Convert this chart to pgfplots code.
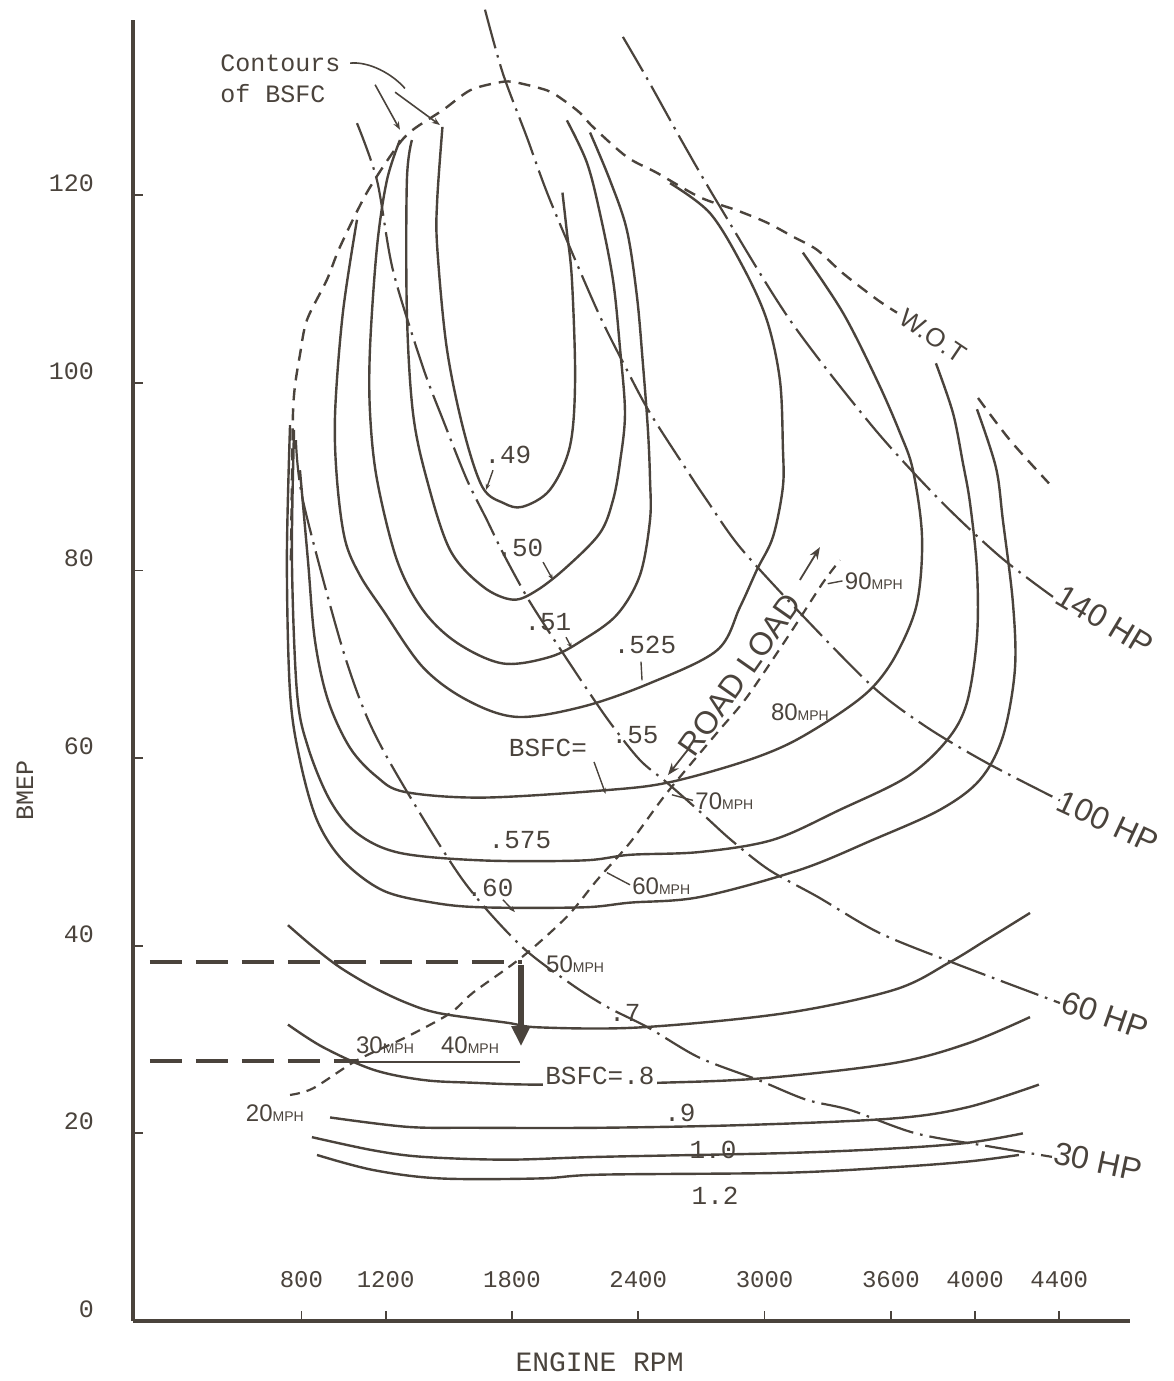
\documentclass[border=0pt]{standalone}
\usepackage{fontspec}
\setmainfont{Liberation Mono}
\newfontfamily\hand{Liberation Sans}
\usepackage{pgfplots}
\pgfplotsset{compat=1.18}
\usetikzlibrary{arrows.meta}
\definecolor{ink}{RGB}{74,67,60}
\pgfplotsset{
  cont/.style={ink, line width=1.2pt, smooth, tension=0.55, no marks},
  hp/.style={ink, line width=1.1pt, smooth, no marks, dash pattern=on 20pt off 3.5pt on 1.3pt off 3.5pt},
  wot/.style={ink, line width=1.2pt, smooth, no marks, dash pattern=on 6pt off 4pt},
  road/.style={ink, line width=1.1pt, smooth, no marks, dash pattern=on 5pt off 3.5pt},
}
\newcommand\lab{\fontsize{13}{13}\selectfont}
\newcommand\hpf{\hand\fontsize{16}{16}\selectfont}
\newcommand\mph[1]{{\hand\fontsize{12}{12}\selectfont #1\fontsize{7}{7}\selectfont MPH}}
\begin{document}
\begin{tikzpicture}
\begin{axis}[
  scale only axis, width=498.5pt, height=650.5pt,
  xmin=0, xmax=4736, ymin=0, ymax=138.7,
  axis x line*=bottom, axis y line*=left,
  xtick pos=left, ytick pos=left,
  axis line style={-, line width=1.8pt, ink},
  clip=false,
  xtick={800,1200,1800,2400,3000,3600,4000,4400},
  xticklabels={800,1200,1800,2400,3000,3600,4000,4400},
  ytick={0,20,40,60,80,100,120},
  yticklabels={0,20,40,60,80,100,120},
  tick align=inside, major tick length=5pt,
  tick style={ink, line width=0.9pt},
  /pgf/number format/assume math mode=true,
  xticklabel style={anchor=south, yshift=13pt, font=\fontsize{12}{12}\selectfont, text=ink},
  yticklabel style={anchor=east, xshift=-16pt, yshift=6pt, font=\fontsize{12.5}{12.5}\selectfont, text=ink},
  xlabel={ENGINE RPM}, ylabel={BMEP},
  every axis x label/.style={at={(rel axis cs:0.468,0)}, anchor=center, yshift=-20.5pt, font=\fontsize{14}{14}\selectfont, text=ink},
  every axis y label/.style={at={(rel axis cs:0,0.408)}, anchor=center, xshift=-54pt, rotate=90, font=\fontsize{12.5}{12.5}\selectfont, text=ink},
]
\coordinate (SW) at (rel axis cs:0,0);
\coordinate (NE) at (rel axis cs:1,1);

% ---- BSFC contours (upper family) ----
% .49
\addplot[cont] coordinates {(1470,127.3) (1445,119.5) (1445,114.5) (1490,103.8) (1570,95.0) (1660,88.9) (1760,87.2) (1850,86.8) (1980,88.6) (2075,93.2) (2100,100.3) (2085,111.0) (2060,116.3) (2040,120.3)};
% .50
\addplot[cont] coordinates {(1325,125.9) (1301,121.6) (1301,107.5) (1330,96.8) (1396,89.7) (1506,82.2) (1662,78.3) (1805,76.9) (1919,77.9) (2061,80.4) (2218,84.0) (2280,87.5) (2313,91.5) (2337,96.8) (2313,103.8) (2280,111.0) (2218,118.1) (2156,123.5) (2061,128.0)};
% .51
\addplot[cont] coordinates {(1268,125.9) (1206,121.6) (1159,114.5) (1126,103.8) (1126,96.8) (1159,89.7) (1254,81.1) (1377,75.8) (1539,72.3) (1757,70.1) (1981,70.8) (2137,72.6) (2299,75.3) (2408,79.5) (2456,85.4) (2456,89.7) (2446,95.0) (2422,102.1) (2394,109.2) (2346,116.3) (2266,121.6) (2171,126.7)};
% .525
\addplot[cont] coordinates {(1064,117.4) (997,107.5) (960,96.8) (969,89.7) (1007,83.3) (1078,79.5) (1187,75.8) (1377,69.7) (1586,66.2) (1824,64.4) (2137,65.5) (2456,68.0) (2774,71.5) (2883,76.1) (2964,80.1) (3040,83.6) (3087,88.9) (3087,93.2) (3073,100.3) (3011,106.7) (2897,112.4) (2741,118.1) (2551,121.3)};
% .55
\addplot[cont] coordinates {(793,90.7) (831,81.1) (864,72.6) (926,66.2) (1031,61.1) (1159,58.0) (1292,56.4) (1662,55.8) (2251,56.6) (2541,57.4) (2883,59.5) (3121,61.6) (3358,64.8) (3515,67.6) (3629,71.2) (3724,76.5) (3748,83.6) (3705,90.7) (3643,94.7) (3534,100.3) (3372,107.5) (3182,113.9)};
% .575
\addplot[cont] coordinates {(765,95.0) (755,81.1) (779,67.0) (831,61.2) (936,55.5) (1064,52.0) (1268,49.9) (1662,49.1) (2137,49.1) (2361,49.7) (2693,50.0) (3040,51.3) (3358,54.5) (3676,58.0) (3866,61.9) (3961,65.9) (4009,72.9) (4009,80.1) (3976,87.2) (3942,91.5) (3895,96.8) (3814,102.1)};
% .60
\addplot[cont] coordinates {(746,95.5) (731,81.1) (746,67.0) (793,59.8) (874,53.4) (997,49.1) (1187,45.9) (1425,44.6) (1662,44.1) (2137,44.1) (2361,44.6) (2693,45.2) (3168,48.1) (3515,51.3) (3833,54.5) (4023,57.7) (4132,62.3) (4189,69.4) (4180,76.5) (4132,85.4) (4099,91.0) (4009,97.2)};

% ---- BSFC contours (lower family) ----
% .7
\addplot[cont] coordinates {(736,42.2) (855,39.9) (983,37.7) (1140,35.6) (1301,33.9) (1458,32.8) (1776,31.8) (1933,31.3) (2408,31.3) (3092,32.8) (3615,35.3) (3876,38.2) (4052,40.6) (4261,43.5)};
% .8
\addplot[cont] coordinates {(736,31.6) (902,29.2) (1140,26.8) (1377,25.7) (1615,25.4) (1933,25.2) (2503,25.4) (3002,25.9) (3615,27.5) (3966,29.6) (4261,32.4)};
% .9
\addplot[cont] coordinates {(936,21.7) (1301,20.7) (1615,20.6) (2218,20.6) (2916,20.9) (3615,21.6) (3966,22.8) (4303,25.2)};
% 1.0
\addplot[cont] coordinates {(850,19.6) (1140,18.2) (1377,17.5) (1776,17.2) (2218,17.5) (3092,17.9) (3615,18.4) (3966,19.0) (4227,20.0)};
% 1.2
\addplot[cont] coordinates {(874,17.7) (1140,16.1) (1458,15.2) (1933,15.2) (2218,15.6) (3092,15.8) (3615,16.4) (3966,17.0) (4208,17.7)};

% ---- W.O.T. ----
\addplot[wot] coordinates {(750,81.1) (755,89.7) (760,96.8) (770,99.8) (793,103.0) (826,106.7) (921,111.0) (983,114.5) (1111,120.3) (1254,125.2) (1330,127.0) (1472,129.1) (1601,131.2) (1729,132.0) (1805,132.1) (1966,131.2) (2042,130.2) (2123,128.8) (2185,127.3) (2346,124.1) (2489,122.4) (2693,119.8) (2869,118.4) (3011,117.1) (3135,115.6) (3249,114.2) (3372,111.7) (3534,108.9) (3629,107.5)};
\addplot[wot] coordinates {(4014,98.4) (4166,93.9) (4351,89.3)};

% ---- constant horsepower lines ----
% 140 HP
\addplot[hp] coordinates {(2327,136.9) (2446,132.3) (2612,125.6) (2788,118.8) (3121,106.7) (3515,95.3) (3833,87.5) (4118,81.5) (4370,77.2)};
% 100 HP
\addplot[hp] coordinates {(1672,139.8) (1757,133.0) (1871,126.2) (1981,119.5) (2204,107.8) (2346,101.4) (2456,96.8) (2631,90.7) (2726,87.5) (2883,82.5) (3168,75.5) (3515,67.6) (3771,63.3) (4056,59.5) (4403,55.5)};
% 60 HP
\addplot[hp] coordinates {(1064,127.7) (1159,121.6) (1235,112.0) (1377,101.7) (1472,96.1) (1586,89.7) (1681,85.4) (1757,81.9) (1871,77.2) (1981,73.3) (2137,68.0) (2266,63.8) (2408,59.8) (2536,57.4) (2698,54.2) (2840,51.3) (3021,48.1) (3254,45.2) (3543,41.4) (3895,38.2) (4403,33.9)};
% 30 HP
\addplot[hp] coordinates {(774,93.9) (807,87.5) (983,72.6) (1111,64.4) (1268,57.7) (1567,47.0) (1838,40.1) (2076,36.0) (2251,33.5) (2446,31.3) (2688,28.1) (2969,25.7) (3197,23.6) (3406,22.5) (3719,20.0) (4071,18.6) (4365,17.5)};

% ---- road load ----
\addplot[road] coordinates {(746,24.1) (855,24.8) (1064,27.8) (1301,30.3) (1506,32.8) (1615,35.0) (1848,38.8) (2061,43.1) (2204,47.0) (2361,51.0) (2536,56.3) (2774,62.7) (2916,66.5) (3121,73.3) (3277,78.7) (3358,81.1)};

% ---- dashed BMEP levels and shift arrow ----
\addplot[ink, line width=1.8pt, no marks, dash pattern=on 16pt off 7pt] coordinates {(80,38.3) (1848,38.3)};
\addplot[ink, line width=1.8pt, no marks, dash pattern=on 16pt off 7pt] coordinates {(80,27.7) (1064,27.7)};
\addplot[ink, line width=0.9pt, no marks] coordinates {(1064,27.6) (1840,27.6)};
\addplot[ink, line width=2.6pt, no marks, -{Triangle[length=10pt,width=9pt]}] coordinates {(1843,37.9) (1843,29.3)};

% ---- annotation arrows ----
\draw[ink, line width=0.8pt] (1031,134.1) .. controls (1120,134.3) and (1230,133.0) .. (1292,131.4);
\draw[ink, line width=0.8pt, -{Stealth[length=4pt]}] (1150,131.8) -- (1268,127.0);
\draw[ink, line width=0.8pt, -{Stealth[length=4pt]}] (1245,131.0) -- (1458,127.5);
\draw[ink, line width=0.7pt, -{Stealth[length=3pt]}] (1710,90.7) -- (1677,88.6);
\draw[ink, line width=0.7pt, -{Stealth[length=3pt]}] (1948,80.9) -- (1995,79.0);
\draw[ink, line width=0.7pt, -{Stealth[length=3pt]}] (2057,72.9) -- (2085,71.7);
\draw[ink, line width=0.7pt] (2413,70.3) -- (2418,68.3);
\draw[ink, line width=0.7pt, -{Stealth[length=3pt]}] (2190,59.6) -- (2245,56.2);
\draw[ink, line width=0.7pt, -{Stealth[length=3pt]}] (1757,44.9) -- (1814,43.6);
\draw[ink, line width=0.9pt, -{Stealth[length=6pt]}] (3168,79.0) -- (3263,82.5);
\draw[ink, line width=0.9pt, -{Stealth[length=6pt]}] (2646,61.2) -- (2541,58.2);
\draw[ink, line width=0.7pt] (2251,47.8) -- (2361,46.5);
\draw[ink, line width=0.7pt] (2560,56.1) -- (2660,55.5);
\draw[ink, line width=0.7pt] (3300,78.6) -- (3370,78.9);

% ---- labels ----
\begin{scope}[every node/.style={text=ink, inner sep=0pt}]
\node[anchor=west, align=left, font=\fontsize{12.5}{15.5}\selectfont] at (413,132.4) {Contours\\of BSFC};
\node[font=\lab] at (1781,92.3) {.49};
\node[font=\lab] at (1838,82.4) {.50};
\node[font=\lab] at (1971,74.5) {.51};
\node[font=\lab] at (2432,72.1) {.525};
\node[font=\lab] at (2385,62.5) {.55};
\node[font=\lab] at (1971,61.1) {BSFC=};
\node[font=\lab] at (1838,51.3) {.575};
\node[font=\lab] at (1696,46.2) {.60};
\node[font=\lab] at (2337,32.8) {.7};
\node[font=\lab, fill=white, inner sep=1pt] at (2218,26.1) {BSFC=.8};
\node[font=\lab] at (2598,22.2) {.9};
\node[font=\lab] at (2755,18.2) {1.0};
\node[font=\lab] at (2765,13.4) {1.2};
\node[font=\hand\fontsize{13}{13}\selectfont, rotate=-34] at (3800,105.0) {W.O.T};
\node[font=\hpf, rotate=-31] at (4617,74.7) {140 HP};
\node[font=\hpf, rotate=-25] at (4631,53.2) {100 HP};
\node[font=\hpf, rotate=-19] at (4617,32.6) {60 HP};
\node[font=\hpf, rotate=-12] at (4584,17.0) {30 HP};
\node[font=\hand\fontsize{16}{16}\selectfont, rotate=55] at (2883,68.9) {ROAD LOAD};
\node at (674,22.2) {\mph{20}};
\node at (1197,29.4) {\mph{30}};
\node at (1601,29.4) {\mph{40}};
\node at (2100,38.0) {\mph{50}};
\node[anchor=west] at (2370,46.4) {\mph{60}};
\node[anchor=west] at (2670,55.4) {\mph{70}};
\node at (3168,64.9) {\mph{80}};
\node[anchor=west] at (3380,78.9) {\mph{90}};
\end{scope}
\end{axis}
\pgfresetboundingbox
\path ([shift={(-66.5pt,-30pt)}]SW) rectangle ([shift={(21.5pt,10pt)}]NE);
\end{tikzpicture}
\end{document}
